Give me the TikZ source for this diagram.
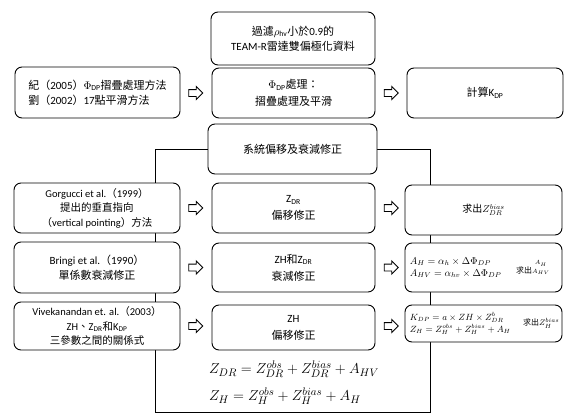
\documentclass[tikz,border=0pt]{standalone}
\usepackage{fontspec}
\setmainfont{Carlito}
\newfontfamily\cjk{Noto Sans CJK TC}
\usetikzlibrary{shapes.arrows}
\pgfdeclarelayer{bg}
\pgfsetlayers{bg,main}
\newcommand\C[1]{{\cjk #1}}
\tikzset{
  box/.style={draw, rounded corners=7pt, line width=0.9pt, fill=white, align=center, inner sep=2pt, font=\fontsize{11}{15}\selectfont},
  harrow/.style={single arrow, draw, line width=0.9pt, fill=white, minimum height=14pt, inner xsep=0pt, inner ysep=3pt, single arrow head extend=3pt, text height=0pt, text depth=0pt},
  conn/.style={line width=0.9pt},
  eqs/.style={align=left, inner sep=0pt}
}
\begin{document}
\begin{tikzpicture}[x=1pt,y=-1pt]
\useasboundingbox (0,0) rectangle (571,415);
% row 1
\node[box, minimum width=164pt, minimum height=53pt] (top) at (293,38.5)
  {\C{過濾}$\rho$\textsubscript{hv}\C{小於}0.9\C{的}\\TEAM-R\C{雷達雙偏極化資料}};
% row 2
\node[box, align=left, minimum width=165pt, minimum height=51pt] (l2) at (97.5,92.5)
  {\C{紀（}2005\C{）}$\Phi$\textsubscript{DP}\C{摺疊處理方法}\\\C{劉（}2002\C{）}17\C{點平滑方法}};
\node[box, font=\fontsize{11}{17}\selectfont, minimum width=163pt, minimum height=50pt] (m2) at (293.5,93)
  {$\Phi$\textsubscript{DP}\C{處理：}\\\C{摺疊處理及平滑}};
\node[box, minimum width=156pt, minimum height=50pt] (r2) at (485,93)
  {\C{計算}K\textsubscript{DP}};
% system box
\node[box, minimum width=169pt, minimum height=50pt] (sys) at (292.5,149)
  {\C{系統偏移及衰減修正}};
% row 3
\node[box, font=\fontsize{10.5}{14.5}\selectfont, minimum width=166pt, minimum height=50pt] (l3) at (97,208)
  {Gorgucci et al.\C{（}1999\C{）}\\\C{提出的垂直指向}\\\C{（}vertical pointing\C{）方法}};
\node[box, font=\fontsize{11}{17}\selectfont, minimum width=163pt, minimum height=50pt] (m3) at (293.5,208)
  {Z\textsubscript{DR}\\\C{偏移修正}};
\node[box, font=\fontsize{10}{12}\selectfont, minimum width=157pt, minimum height=50pt] (r3) at (483.5,210)
  {\C{求出}$Z_{DR}^{bias}$};
% row 4
\node[box, minimum width=166pt, minimum height=51pt] (l4) at (97,267.5)
  {Bringi et al.\C{（}1990\C{）}\\\C{單係數衰減修正}};
\node[box, font=\fontsize{11}{17}\selectfont, minimum width=163pt, minimum height=49pt] (m4) at (293.5,267.5)
  {ZH\C{和}Z\textsubscript{DR}\\\C{衰減修正}};
\node[box, minimum width=157pt, minimum height=49pt] (r4) at (483.5,267.5) {};
\node[eqs, font=\fontsize{10}{12}\selectfont, anchor=west] (r4eq) at ([xshift=5pt]r4.west)
  {$A_{H} = \alpha_{h} \times \Delta\Phi_{DP}$\\$A_{HV} = \alpha_{hv} \times \Delta\Phi_{DP}$};
\node[font=\fontsize{8}{9}\selectfont, anchor=west, inner sep=0pt] (r4t) at ([xshift=14pt]r4eq.east)
  {\C{求出}\shortstack{$\scriptstyle A_{H}$\\$\scriptstyle A_{HV}$}};
% row 5
\node[box, font=\fontsize{10.5}{14.5}\selectfont, minimum width=166pt, minimum height=48pt] (l5) at (97,326)
  {Vivekanandan et. al.\C{（}2003\C{）}\\ZH\C{、}Z\textsubscript{DR}\C{和}K\textsubscript{DP}\\\C{三參數之間的關係式}};
\node[box, font=\fontsize{11}{17}\selectfont, minimum width=163pt, minimum height=45pt] (m5) at (293.5,327.5)
  {ZH\\\C{偏移修正}};
\node[box, minimum width=157pt, minimum height=37pt] (r5) at (483.5,323.5) {};
\node[eqs, font=\fontsize{9}{12}\selectfont, anchor=west] (r5eq) at ([xshift=5pt]r5.west)
  {$K_{DP} = a \times ZH \times Z_{DR}^{b}$\\$Z_{H} = Z_{H}^{obs} + Z_{H}^{bias} + A_{H}$};
\node[font=\fontsize{8}{9}\selectfont, anchor=west, inner sep=0pt] (r5t) at ([xshift=12pt]r5eq.east)
  {\C{求出}$Z_{H}^{bias}$};
% arrows
\foreach \y/\n in {93/2,208/3,267.5/4,326/5}{
  \node[harrow] (al\n) at (194,\y) {};
  \node[harrow] (ar\n) at (389.5,\y) {};
}
% equations below
\node[eqs, font=\fontsize{15.5}{27}\selectfont] (eq) at (294,383)
  {$Z_{DR} = Z_{DR}^{obs} + Z_{DR}^{bias} + A_{HV}$\\$Z_{H} = Z_{H}^{obs} + Z_{H}^{bias} + A_{H}$};
% frame lines
\coordinate (bl) at (155,412);
\coordinate (br) at (430,412);
\begin{pgfonlayer}{bg}
\draw[conn] (sys.west) -| (bl) -- (br) |- (sys.east);
\end{pgfonlayer}
\end{tikzpicture}
\end{document}
